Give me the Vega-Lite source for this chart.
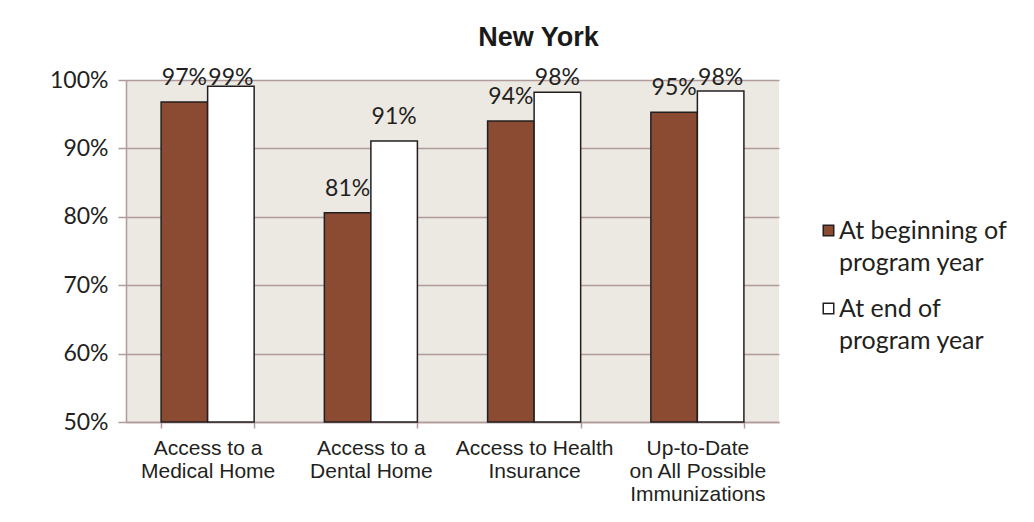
{
  "$schema": "https://vega.github.io/schema/vega-lite/v6.json",
  "width": 653,
  "height": 342,
  "autosize": {"type": "none"},
  "padding": {"left": 126, "top": 80, "right": 255, "bottom": 100},
  "background": "white",
  "title": {"text": "New York", "font": "Liberation Sans", "fontSize": 27, "fontWeight": "bold", "color": "#1a1a1a", "anchor": "middle", "dx": 86, "offset": -6, "baseline": "alphabetic"},
  "config": {"view": {"fill": "#ECE9E3", "stroke": null}},
  "data": {"values": [
    {"measure": "Access to a Medical Home", "series": "At beginning of program year", "value": 0.968},
    {"measure": "Access to a Medical Home", "series": "At end of program year", "value": 0.991},
    {"measure": "Access to a Dental Home", "series": "At beginning of program year", "value": 0.806},
    {"measure": "Access to a Dental Home", "series": "At end of program year", "value": 0.911},
    {"measure": "Access to Health Insurance", "series": "At beginning of program year", "value": 0.940},
    {"measure": "Access to Health Insurance", "series": "At end of program year", "value": 0.982},
    {"measure": "Up-to-Date on All Possible Immunizations", "series": "At beginning of program year", "value": 0.953},
    {"measure": "Up-to-Date on All Possible Immunizations", "series": "At end of program year", "value": 0.984}
  ]},
  "layer": [
    {
      "mark": {"type": "bar", "stroke": "#231F20", "strokeWidth": 1.5},
      "encoding": {
        "x": {"field": "measure", "type": "nominal", "sort": null,
          "scale": {"paddingInner": 0.43, "paddingOuter": 0.215},
          "axis": {"title": null, "tickBand": "extent", "labelFont": "Liberation Sans", "labelFontSize": 21, "labelColor": "#231F20", "labelAngle": 0, "labelBaseline": "top", "labelPadding": 9, "labelLineHeight": 23, "tickSize": 6, "domainColor": "#B09A9B", "tickColor": "#B09A9B", "domainWidth": 1.5, "tickWidth": 1.5,
            "labelExpr": "datum.value == 'Access to a Medical Home' ? ['Access to a', 'Medical Home'] : datum.value == 'Access to a Dental Home' ? ['Access to a', 'Dental Home'] : datum.value == 'Access to Health Insurance' ? ['Access to Health', 'Insurance'] : datum.value == 'Up-to-Date on All Possible Immunizations' ? ['Up-to-Date', 'on All Possible', 'Immunizations'] : ''"}},
        "xOffset": {"field": "series", "type": "nominal", "sort": null, "scale": {"paddingInner": 0, "paddingOuter": 0}},
        "y": {"field": "value", "type": "quantitative", "scale": {"domain": [0.5, 1], "zero": false},
          "axis": {"title": null, "values": [0.5, 0.6, 0.7, 0.8, 0.9, 1.0], "format": ".0%", "labelFont": "Lato", "labelFontSize": 23, "labelColor": "#231F20", "domainColor": "#B09A9B", "tickColor": "#B09A9B", "gridColor": "#B09A9B", "tickSize": 8, "labelPadding": 10, "grid": true, "domainWidth": 1.5, "gridWidth": 1.5, "tickWidth": 1.5}},
        "y2": {"datum": 0.5},
        "color": {"field": "series", "type": "nominal", "sort": null, "scale": {"range": ["#8B4A32", "#FFFFFF"]},
          "legend": {"title": null, "orient": "none", "legendX": 690, "legendY": 138, "symbolType": "square", "symbolSize": 110, "symbolStrokeColor": "#231F20", "symbolStrokeWidth": 1.5, "labelFont": "Lato", "labelFontSize": 25, "labelColor": "#231F20", "labelBaseline": "middle", "rowPadding": 20, "labelOffset": -2, "labelLimit": 300,
            "encode": {"labels": {"update": {"lineHeight": {"value": 32}}}},
            "labelExpr": "datum.label == 'At beginning of program year' ? ['At beginning of', 'program year'] : ['At end of', 'program year']"}}
      }
    },
    {
      "mark": {"type": "text", "font": "Lato", "fontSize": 23, "baseline": "alphabetic", "dy": 5, "color": "#231F20"},
      "encoding": {
        "x": {"field": "measure", "type": "nominal", "sort": null},
        "xOffset": {"field": "series", "type": "nominal", "sort": null},
        "y": {"field": "value", "type": "quantitative", "scale": {"domain": [0.46784, 0.96784], "clamp": true, "zero": false}, "axis": null},
        "text": {"field": "value", "type": "quantitative", "format": ".0%"}
      }
    }
  ],
  "resolve": {"scale": {"y": "independent"}}
}
